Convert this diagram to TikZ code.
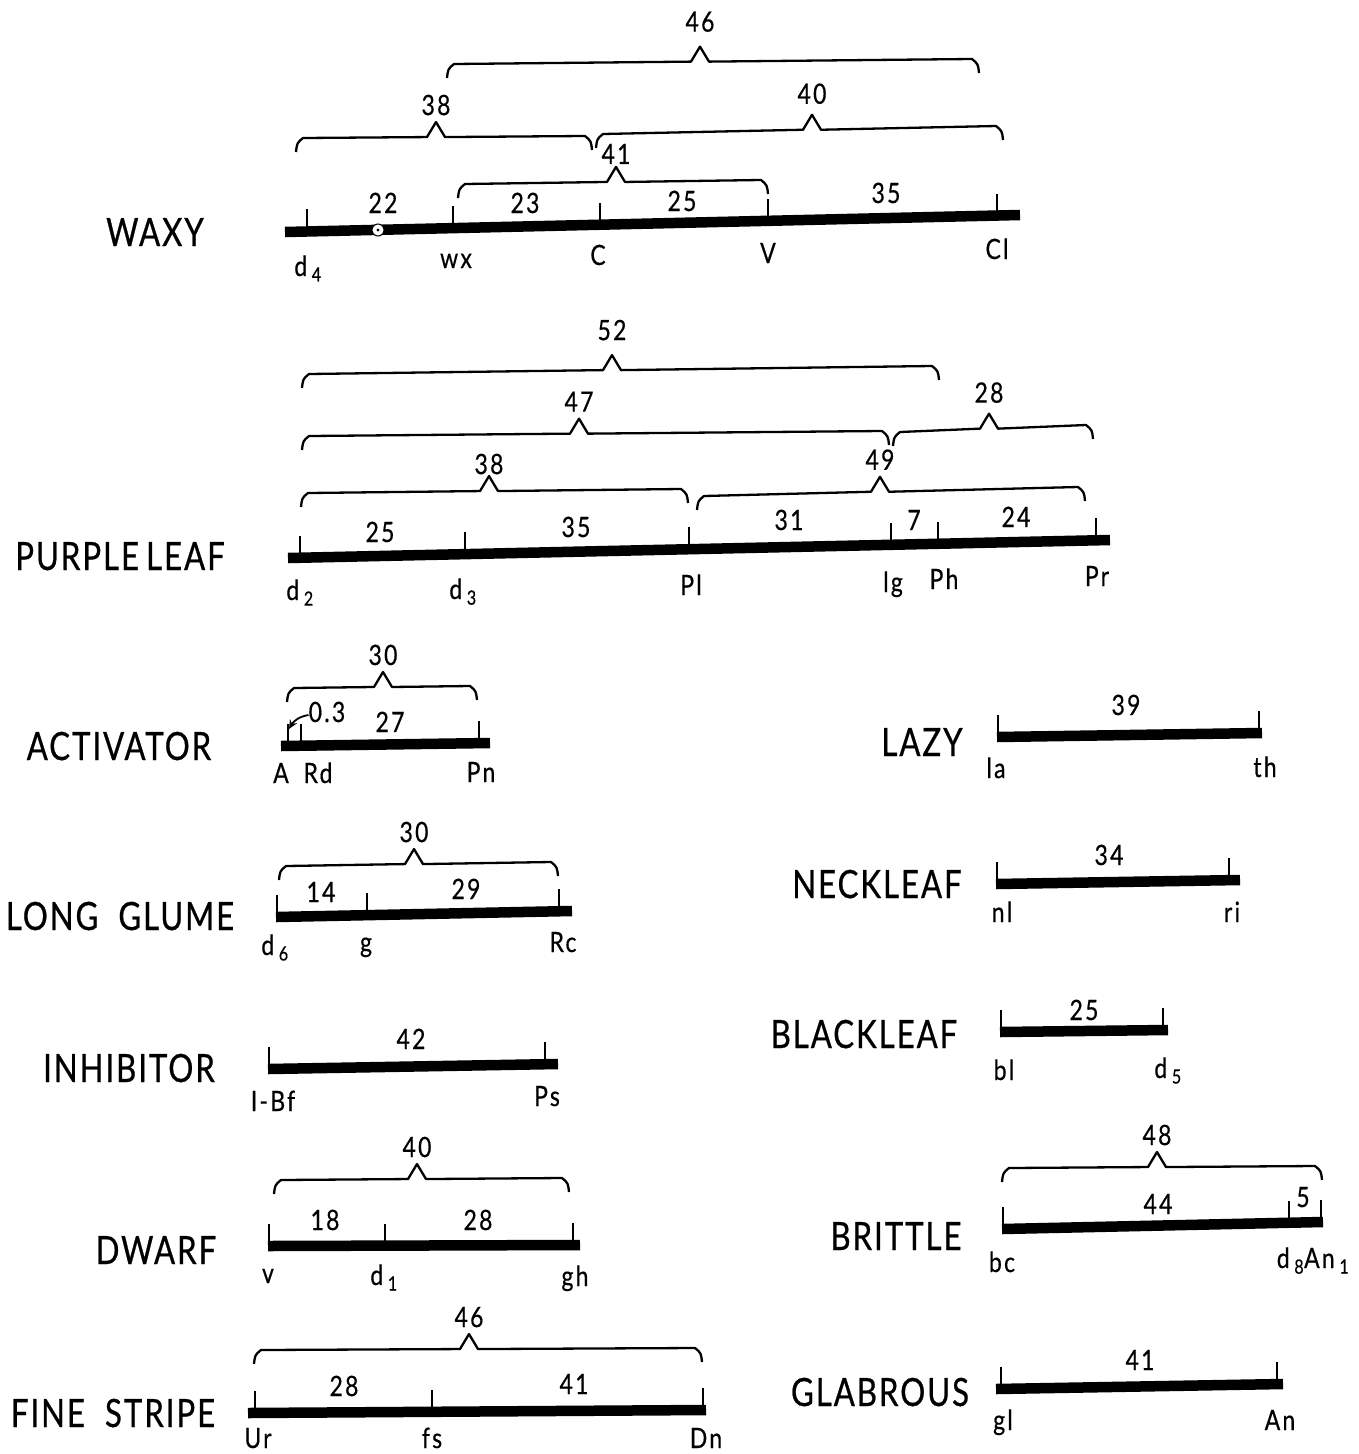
\documentclass[tikz,border=0pt]{standalone}
\usepackage{fontspec}
\usetikzlibrary{arrows.meta}
\setmainfont{Lato}[FakeStretch=0.82]
\newfontfamily\namefont{Lato}[FakeStretch=0.8,LetterSpace=5,FakeBold=0.6]
\newfontfamily\labfont{Lato}[FakeStretch=0.82,LetterSpace=8,FakeBold=0.5]

\tikzset{
  chrom/.style={line width=10.5pt},
  tick/.style={line width=1.6pt},
  span/.style={line width=2.3pt, line join=round},
  trait/.style={font=\namefont\fontsize{39}{39}\selectfont, anchor=base, inner sep=0pt},
  gene/.style={font=\labfont\fontsize{28}{28}\selectfont, anchor=base, inner sep=0pt},
  dist/.style={font=\labfont\fontsize{28}{28}\selectfont, anchor=base, inner sep=0pt},
}

% bar of a linkage group, end points kept for the ticks
\newcommand{\setbar}[4]{\def\bxa{#1}\def\bya{#2}\def\bxb{#3}\def\byb{#4}%
  \draw[chrom] (#1,#2) -- (#3,#4);}
\newcommand{\gtick}[1]{%
  \pgfmathsetmacro{\ty}{\bya+(\byb-\bya)*(#1-\bxa)/(\bxb-\bxa)}%
  \draw[tick] (#1,\ty) -- (#1,\ty-22);}
% brace over two loci: [gap], x left, y left, x right, y right, x of peak, value
\newcommand{\linkage}[7][22]{%
  \pgfmathsetmacro{\py}{#3+(#5-#3)*(#6-#2)/(#4-#2)}%
  \draw[span] (#2,#3+14) .. controls (#2+1,#3+5) .. (#2+7,#3) -- (#6-9,\py)
    -- (#6,\py-15) -- (#6+9,\py) -- (#4-7,#5) .. controls (#4-1,#5+5) .. (#4,#5+14);
  \node[dist] (lk#6) at (#6,\py-#1) {#7};}

\begin{document}
\begin{tikzpicture}[x=1pt,y=-1pt]
\useasboundingbox (0,0) rectangle (1359,1454);

% waxy
\node[trait] (waxy) at (155,246) {WAXY};
\setbar{285}{232}{1020}{215}
\foreach \x in {307,453,600,768,997} {\gtick{\x}}
\draw[fill=white, line width=1pt] (378,230) circle (6pt);
\fill (378,230) circle (1.6pt);
\node[gene] (wd4) at (308,276) {d\,\textsubscript{4}};
\node[gene] (wwx) at (456,268) {wx};
\node[gene] (wC) at (598,265) {C};
\node[gene] (wV) at (768,263) {V};
\node[gene] (wCl) at (997,259) {Cl};
\node[dist] (w22) at (383,213) {22};
\node[dist] (w23) at (525,213) {23};
\node[dist] (w25) at (682,211) {25};
\node[dist] (w35) at (886,203) {35};
\linkage[18]{458}{184}{768}{180}{616}{41}
\linkage{296}{138}{592}{136}{436}{38}
\linkage[26]{596}{134}{1003}{126}{812}{40}
\linkage[30]{447}{64}{979}{59}{700}{46}

% purple leaf
\node[trait] (purple) at (120,570) {PURPLE\hspace{7pt}LEAF};
\setbar{288}{558}{1110}{540}
\foreach \x in {300,465,689,891,938,1096} {\gtick{\x}}
\node[gene] (pd2) at (300,600) {d\,\textsubscript{2}};
\node[gene] (pd3) at (463,599) {d\,\textsubscript{3}};
\node[gene] (pPl) at (691,595) {Pl};
\node[gene] (plg) at (893,592) {lg};
\node[gene] (pPh) at (944,589) {Ph};
\node[gene] (pPr) at (1097,586) {Pr};
\node[dist] (p25) at (380,542) {25};
\node[dist] (p35) at (576,537) {35};
\node[dist] (p31) at (789,530) {31};
\node[dist] (p7) at (914,530) {7};
\node[dist] (p24) at (1016,527) {24};
\linkage[17]{301}{493}{688}{489}{489}{38}
\linkage{697}{496}{1085}{487}{880}{49}
\linkage{302}{436}{889}{431}{579}{47}
\linkage[26]{893}{432}{1093}{425}{989}{28}
\linkage[30]{302}{374}{939}{366}{612}{52}

% activator
\node[trait] (activ) at (119,760) {ACTIVATOR};
\setbar{281}{746}{490}{743}
\foreach \x in {288,301,479} {\gtick{\x}}
\node[gene] (aA) at (281,783) {A};
\node[gene] (aRd) at (318,783) {Rd};
\node[gene] (aPn) at (481,782) {Pn};
\node[dist] (a03) at (327,722) {0.3};
\node[dist] (a27) at (390,732) {27};
\coordinate (aend) at (289,729);
\draw[-{Stealth[length=9pt,width=8pt]}, line width=1.8pt] ([yshift=-3pt]a03.west) to[out=190,in=60] (aend);
\linkage{287}{688}{477}{686}{383}{30}

% long glume
\node[trait] (glume) at (120,930) {LONG\hspace{20pt}GLUME};
\setbar{276}{917}{572}{911}
\foreach \x in {277,367,559} {\gtick{\x}}
\node[gene] (gd6) at (275,955) {d\,\textsubscript{6}};
\node[gene] (gg) at (366,952) {g};
\node[gene] (gRc) at (563,952) {Rc};
\node[dist] (g14) at (321,902) {14};
\node[dist] (g29) at (466,899) {29};
\linkage{279}{866}{558}{862}{414}{30}

% inhibitor
\node[trait] (inhib) at (129,1082) {INHIBITOR};
\setbar{268}{1069}{558}{1064}
\foreach \x in {269,545} {\gtick{\x}}
\node[gene] (iIBf) at (273,1111) {I-Bf};
\node[gene] (iPs) at (547,1106) {Ps};
\node[dist] (i42) at (411,1049) {42};

% dwarf
\node[trait] (dwarf) at (156,1264) {DWARF};
\setbar{268}{1246}{580}{1245}
\foreach \x in {269,385,573} {\gtick{\x}}
\node[gene] (dv) at (268,1283) {v};
\node[gene] (dd1) at (384,1285) {d\,\textsubscript{1}};
\node[gene] (dgh) at (575,1286) {gh};
\node[dist] (d18) at (325,1230) {18};
\node[dist] (d28) at (478,1230) {28};
\linkage{274}{1180}{569}{1178}{417}{40}

% fine stripe
\node[trait] (fine) at (113,1427) {FINE\hspace{20pt}STRIPE};
\setbar{248}{1413}{706}{1410}
\foreach \x in {255,432,703} {\gtick{\x}}
\node[gene] (fUr) at (258,1448) {Ur};
\node[gene] (ffs) at (432,1448) {fs};
\node[gene] (fDn) at (706,1448) {Dn};
\node[dist] (f28) at (344,1396) {28};
\node[dist] (f41) at (574,1394) {41};
\linkage{254}{1350}{702}{1348}{469}{46}

% lazy
\node[trait] (lazy) at (922,756) {LAZY};
\setbar{997}{737}{1262}{733}
\foreach \x in {998,1259} {\gtick{\x}}
\node[gene] (lla) at (996,778) {la};
\node[gene] (lth) at (1265,777) {th};
\node[dist] (l39) at (1126,715) {39};

% neckleaf
\node[trait] (neck) at (877,898) {NECKLEAF};
\setbar{996}{884}{1240}{880}
\foreach \x in {997,1229} {\gtick{\x}}
\node[gene] (nnl) at (1002,922) {nl};
\node[gene] (nri) at (1232,922) {ri};
\node[dist] (n34) at (1109,865) {34};

% blackleaf
\node[trait] (black) at (864,1048) {BLACKLEAF};
\setbar{1000}{1032}{1168}{1030}
\foreach \x in {1001,1163} {\gtick{\x}}
\node[gene] (bbl) at (1004,1080) {bl};
\node[gene] (bd5) at (1168,1078) {d\,\textsubscript{5}};
\node[dist] (b25) at (1084,1020) {25};

% brittle
\node[trait] (brittle) at (896,1250) {BRITTLE};
\setbar{1002}{1229}{1323}{1222}
\foreach \x in {1003,1289,1321} {\gtick{\x}}
\node[gene] (rbc) at (1002,1272) {bc};
\node[gene] (rAn) at (1313,1268) {d\,\textsubscript{8}An\,\textsubscript{1}};
\node[dist] (r44) at (1158,1214) {44};
\node[dist] (r5) at (1303,1207) {5};
\linkage{1002}{1168}{1322}{1166}{1157}{48}

% glabrous
\node[trait] (glab) at (880,1406) {GLABROUS};
\setbar{996}{1389}{1283}{1384}
\foreach \x in {1001,1277} {\gtick{\x}}
\node[gene] (ygl) at (1003,1430) {gl};
\node[gene] (yAn) at (1280,1430) {An};
\node[dist] (y41) at (1140,1370) {41};
\end{tikzpicture}
\end{document}
